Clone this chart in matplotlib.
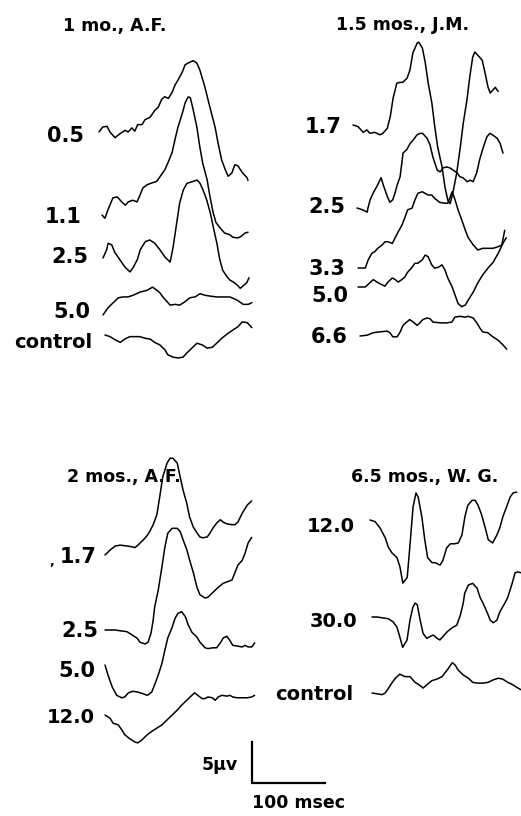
import numpy as np
import matplotlib
matplotlib.use("Agg")
import matplotlib.pyplot as plt

# ---------------- data: time (msec from trace onset) and amplitude (microvolts) ----------------
# Panel A: 1 mo., A.F.
a_t_05 = [0,5,11,15,22,26,32,36,40,45,49,53,59,63,70,77,81,86,90,95,100,104,108,114,118,122,129,134,138,145,152,159,163,168,173,177,182,186,190,196,203,204]
a_v_05 = [0,0.6,0.7,0,-0.7,-0.4,0,0.2,0,0.5,0.1,0.9,0.9,1.5,1.8,2.7,3.0,4.0,4.3,4.1,4.8,5.7,6.3,7.3,8.2,8.4,8.7,8.4,7.6,5.5,3.0,0.6,-1.3,-3.4,-4.6,-5.4,-5.0,-4.0,-4.1,-4.9,-5.6,-5.9]
a_t_11 = [0,4,8,15,21,27,32,36,42,48,52,56,62,68,75,82,86,90,96,100,104,110,114,118,121,125,130,134,138,144,148,152,156,162,168,175,179,185,189,196,200]
a_v_11 = [0,-0.4,0.6,2.1,2.2,1.6,1.2,1.6,1.8,1.6,2.4,3.3,3.7,3.9,4.1,5.0,5.5,6.3,7.6,9.2,10.7,12.4,13.7,14.4,14.3,12.8,10.7,8.3,6.3,4.3,2.2,0.4,-0.9,-1.6,-2.2,-2.4,-2.7,-2.8,-2.7,-2.2,-2.1]
a_t_25 = [0,5,7,12,16,23,30,37,41,47,51,58,64,71,78,85,92,96,101,105,110,115,122,129,133,137,142,147,151,156,160,164,170,174,178,184,188,192,197,200]
a_v_25 = [0,1.0,1.8,1.6,0.7,-0.2,-1.1,-1.7,-1.2,-0.2,1.0,2.0,2.2,1.8,1.0,0.1,-0.5,1.3,4.3,6.7,8.3,9.1,9.3,9.5,9.1,8.3,7.1,5.5,3.8,1.8,-0.2,-1.5,-2.3,-2.7,-2.9,-3.3,-3.7,-3.4,-3.0,-2.4]
a_t_50 = [0,7,14,21,27,34,41,51,60,68,74,78,82,88,92,99,105,112,119,126,133,140,147,156,164,174,184,192,199,204]
a_v_50 = [0,0.9,1.5,2.1,2.2,2.2,2.4,2.8,3.0,3.4,3.0,2.7,2.2,1.6,1.2,1.3,1.2,1.6,2.1,2.2,2.6,2.4,2.3,2.2,2.2,2.2,1.8,1.3,1.3,1.5]
a_t_ct = [0,7,14,21,27,34,41,48,55,62,68,75,82,86,93,100,107,112,119,126,133,140,147,153,160,167,175,182,188,195,201]
a_v_ct = [0,-0.2,-0.6,-0.9,-0.5,-0.2,-0.2,-0.2,-0.4,-0.5,-0.9,-1.2,-1.8,-2.4,-2.7,-2.8,-2.7,-2.2,-1.6,-1.0,-1.2,-1.6,-1.5,-1.0,-0.4,0.1,0.6,1.0,1.6,1.5,0.9]

# Panel B: 1.5 mos., J.M.
b_t_17 = [0,7,14,19,23,30,37,41,47,51,55,60,64,68,74,78,82,88,90,95,99,103,108,112,116,122,126,130,133,137,142,147,151,156,160,164,167,171,177,181,185,188,192,195,197,199]
b_v_17 = [0,-0.2,-0.9,-0.6,-1.0,-0.9,-1.2,-1.0,-0.4,1.0,3.3,5.1,5.2,5.2,5.7,6.7,8.8,10.0,10.1,9.4,7.6,5.1,2.7,-0.2,-2.7,-5.1,-7.6,-9.2,-9.6,-8.2,-5.9,-2.7,0.2,3.0,5.9,8.3,8.9,8.5,7.9,6.3,4.6,3.9,4.3,4.6,4.3,4.1]
b_t_25 = [0,7,14,15,18,22,27,33,36,40,42,45,49,52,55,59,62,63,68,73,77,82,86,90,96,100,104,110,114,118,123,127,132,137,141,145,151,155,159,164,168,173,178,182,186,192,196,200]
b_v_25 = [0,-0.2,-0.5,0,1.0,1.8,2.6,3.7,2.8,1.8,1.3,0.7,1.0,1.8,2.8,3.8,5.9,6.7,7.1,7.9,8.3,8.9,9.1,9.1,8.5,7.7,6.2,4.6,4.4,4.9,5.0,4.9,4.6,4.3,3.8,3.7,3.2,3.4,3.2,4.3,5.9,7.4,8.7,9.1,8.9,8.5,7.9,6.7]
b_t_33 = [0,10,14,19,23,27,33,37,41,47,51,55,60,64,68,74,78,82,88,92,96,101,105,112,119,123,129,133,137,142,147,151,158,164,171,178,185,192,197,201]
b_v_33 = [0,0,1.0,1.8,2.0,2.4,2.8,3.2,3.2,3.0,3.7,4.4,5.2,6.1,7.1,7.3,8.3,9.1,9.3,9.1,8.9,8.9,8.5,8.0,7.9,7.9,9.3,8.3,7.1,5.9,4.6,3.7,2.8,2.2,2.4,2.4,2.4,2.6,2.8,4.6]
b_t_50 = [0,10,16,21,26,30,37,41,47,51,55,60,64,68,74,78,82,88,92,96,101,105,110,115,119,123,129,133,137,142,147,151,158,164,171,178,185,192,199,203]
b_v_50 = [0,0,0.5,0.9,0.6,0.4,0.1,0.6,1.1,0.9,0.6,0.9,1.2,1.8,2.4,2.9,2.9,3.3,3.9,3.7,2.7,2.3,2.4,2.7,2.1,1.1,0,-1.0,-2.0,-2.4,-2.2,-1.6,-0.6,0.5,1.5,2.3,3.0,4.1,5.4,6.0]
b_t_66 = [0,10,18,27,37,41,45,51,55,59,64,68,73,78,82,86,92,96,100,110,119,126,130,137,144,148,155,160,164,168,175,182,189,196,201]
b_v_66 = [0,0.1,0.4,0.5,0.6,0.4,-0.1,-0.1,0.5,1.3,1.7,2.0,1.7,1.3,1.6,2.0,2.2,2.1,1.7,1.6,1.6,1.7,2.3,2.4,2.3,2.4,2.2,1.6,1.0,0.5,0.4,-0.1,-0.5,-1.1,-1.6]

# Panel C: 2 mos., A.F.
c_t_17 = [0,7,14,21,30,37,41,45,52,58,62,66,71,75,79,85,89,93,99,103,107,112,116,121,126,130,134,140,144,148,153,158,162,167,174,178,182,188,195,201]
c_v_17 = [0,0.6,1.1,1.2,1.1,1.0,0.9,1.2,1.8,2.4,3.0,3.7,4.9,7.1,9.5,11.2,11.8,11.8,11.2,9.5,7.9,6.3,4.6,3.4,2.7,2.2,2.1,2.2,2.7,3.3,3.9,4.3,4.0,3.8,3.7,3.7,4.0,5.1,6.1,6.6]
c_t_25 = [0,7,14,21,30,37,44,48,55,59,63,66,68,73,78,82,86,92,99,103,107,112,116,121,126,130,137,141,148,155,162,168,174,178,182,188,192,196,201]
c_v_25 = [0,0,0,-0.1,-0.2,-0.6,-1.0,-1.5,-1.7,-1.5,-0.4,1.2,2.8,4.9,7.7,10.1,11.8,12.4,12.4,12.0,11.0,9.8,8.5,7.0,5.2,4.3,3.9,4.0,4.6,5.2,5.7,5.9,6.1,7.0,7.9,8.5,9.4,10.6,11.3]
c_t_50 = [0,4,10,16,23,27,32,38,45,52,58,64,68,73,78,82,86,92,96,100,105,110,114,119,126,130,137,141,148,153,158,162,167,171,175,182,188,192,196,201,205]
c_v_50 = [0,-1.2,-2.7,-3.7,-4.0,-3.9,-3.4,-3.2,-3.3,-3.5,-3.7,-3.3,-2.4,-1.2,0.2,1.8,3.3,4.6,5.7,6.3,6.5,5.9,4.9,4.0,3.4,2.8,2.1,2.0,2.1,2.1,2.7,3.3,3.5,3.0,2.4,2.3,2.2,2.4,2.2,2.2,2.7]
c_t_120 = [0,7,11,18,23,27,34,41,45,51,58,64,71,78,85,92,99,105,112,119,123,127,133,137,141,147,151,155,160,167,171,175,181,188,195,201,205]
c_v_120 = [0,-0.4,-1.0,-1.2,-1.8,-2.4,-2.9,-3.3,-3.4,-3.0,-2.4,-2.0,-1.6,-1.2,-0.6,0,0.6,1.2,1.8,2.4,2.7,2.4,2.0,2.0,2.2,2.1,1.8,2.2,2.4,2.3,2.4,2.2,2.1,2.1,2.1,2.2,2.4]

# Panel D: 6.5 mos., W. G.
d_t_120 = [0,7,14,21,25,30,37,41,45,51,55,59,63,66,71,75,79,85,89,96,100,105,110,116,121,126,130,134,140,144,148,153,158,162,168,174,178,182,188,192,196,201]
d_v_120 = [0,-0.2,-1.0,-2.2,-3.3,-4.0,-4.6,-5.7,-7.7,-7.0,-2.8,1.6,3.3,2.8,0.4,-2.4,-4.6,-5.2,-5.2,-5.5,-4.9,-3.4,-2.9,-2.9,-2.8,-1.8,0.4,1.8,2.4,2.4,1.8,0.6,-1.0,-2.4,-2.8,-1.8,-0.9,0.4,1.8,2.8,3.3,3.4]
d_t_300 = [0,7,14,22,29,34,38,42,48,52,56,59,62,66,70,75,79,84,89,93,97,103,110,116,121,125,127,132,138,144,148,152,158,162,166,171,175,182,186,192,196,200,204]
d_v_300 = [0,0,-0.1,-0.2,-0.6,-1.2,-2.4,-3.7,-2.8,-0.4,1.2,1.7,1.5,-0.4,-2.0,-2.6,-2.4,-2.2,-2.6,-2.8,-2.4,-1.8,-1.3,-1.0,0.2,1.7,2.9,3.9,4.1,3.5,2.4,1.7,0.5,-0.4,-0.7,-0.4,0.6,1.7,2.4,4.1,5.4,5.5,5.4]
d_t_ct = [0,7,14,18,22,27,32,38,45,52,59,66,70,75,82,89,96,103,110,114,118,125,132,138,145,152,159,166,173,179,186,193,200,204]
d_v_ct = [0,-0.1,-0.2,0,0.5,1.2,1.8,2.3,2.0,2.0,1.3,0.9,0.6,1.0,1.5,1.7,2.0,2.8,3.7,3.4,2.8,2.2,1.8,1.3,1.2,1.2,1.3,1.6,1.8,1.7,1.3,1.0,0.6,0.4]

titles = ["1 mo., A.F.", "1.5 mos., J.M.", "2 mos., A.F.", "6.5 mos., W. G."]
labels_a = ["0.5", "1.1", "2.5", "5.0", "control"]
labels_b = ["1.7", "2.5", "3.3", "5.0", "6.6"]
labels_c = ["1.7", "2.5", "5.0", "12.0"]
labels_d = ["12.0", "30.0", "control"]
scale_uv = 5      # microvolts
scale_ms = 100    # msec

# ---------------- layout (pixels) ----------------
W, H = 521, 816
PX_MS = 0.73   # pixels per msec
PX_UV = 8.2    # pixels per microvolt

fig = plt.figure(figsize=(W / 100, H / 100), dpi=100)
ax = fig.add_axes([0, 0, 1, 1])
ax.set_xlim(0, W / PX_MS)
ax.set_ylim(-H / PX_UV, 0)
ax.axis("off")

def pos(x, y):
    return x / PX_MS, -y / PX_UV

LW = 1.1
def trace(t, v, x0, y0):
    ox, oy = pos(x0, y0)
    ax.plot(np.asarray(t) + ox, np.asarray(v) + oy, color="black", lw=LW,
            solid_joinstyle="round", solid_capstyle="round")

FONT = "DejaVu Sans"
def label(s, xr, yb, size=15, ha="right"):
    x, y = pos(xr, yb)
    ax.text(x, y, s, ha=ha, va="baseline", fontsize=size, fontweight="bold",
            family=FONT, color="black")

# Panel A
a_traces = [(a_t_05, a_v_05), (a_t_11, a_v_11), (a_t_25, a_v_25), (a_t_50, a_v_50), (a_t_ct, a_v_ct)]
a_orig = [(99, 132), (102, 215), (103, 258), (103, 315), (105, 335)]
a_lab = [(84, 142), (82, 223), (88, 263), (90, 318), (92, 348)]
for (t, v), (x0, y0), s, (lx, ly) in zip(a_traces, a_orig, labels_a, a_lab):
    trace(t, v, x0, y0)
    label(s, lx, ly, size=14 if s == "control" else 15)

# Panel B
b_traces = [(b_t_17, b_v_17), (b_t_25, b_v_25), (b_t_33, b_v_33), (b_t_50, b_v_50), (b_t_66, b_v_66)]
b_orig = [(353, 125), (357, 208), (358, 268), (358, 287), (360, 336)]
b_lab = [(342, 133), (345, 213), (345, 275), (348, 302), (348, 343)]
for (t, v), (x0, y0), s, (lx, ly) in zip(b_traces, b_orig, labels_b, b_lab):
    trace(t, v, x0, y0)
    label(s, lx, ly)

# Panel C
c_traces = [(c_t_17, c_v_17), (c_t_25, c_v_25), (c_t_50, c_v_50), (c_t_120, c_v_120)]
c_orig = [(105, 555), (105, 630), (105, 665), (105, 715)]
c_lab = [(97, 563), (98, 637), (95, 677), (95, 723)]
for (t, v), (x0, y0), s, (lx, ly) in zip(c_traces, c_orig, labels_c, c_lab):
    trace(t, v, x0, y0)
    label(s, lx, ly, size=14 if len(s) > 3 else 15)
label(",", 52, 565, size=9, ha="center")

# Panel D
d_traces = [(d_t_120, d_v_120), (d_t_300, d_v_300), (d_t_ct, d_v_ct)]
d_orig = [(370, 520), (372, 617), (372, 693)]
d_lab = [(355, 532), (357, 627), (353, 700)]
for (t, v), (x0, y0), s, (lx, ly) in zip(d_traces, d_orig, labels_d, d_lab):
    trace(t, v, x0, y0)
    label(s, lx, ly, size=14)

# Titles
for s, (cx, by) in zip(titles, [(115, 31), (403, 30), (124, 482), (425, 482)]):
    label(s, cx, by, size=12.5, ha="center")

# Scale bar
sx, sy = pos(252, 783)
ax.plot([sx, sx, sx + scale_ms], [sy + scale_uv, sy, sy], color="black", lw=1.6,
        solid_joinstyle="miter")
label(f"{scale_uv}\u03bcv", 238, 770, size=12.5, ha="right")
label(f"{scale_ms} msec", 252, 808, size=12.5, ha="left")

fig.savefig("out.png", dpi=100, facecolor="white")
